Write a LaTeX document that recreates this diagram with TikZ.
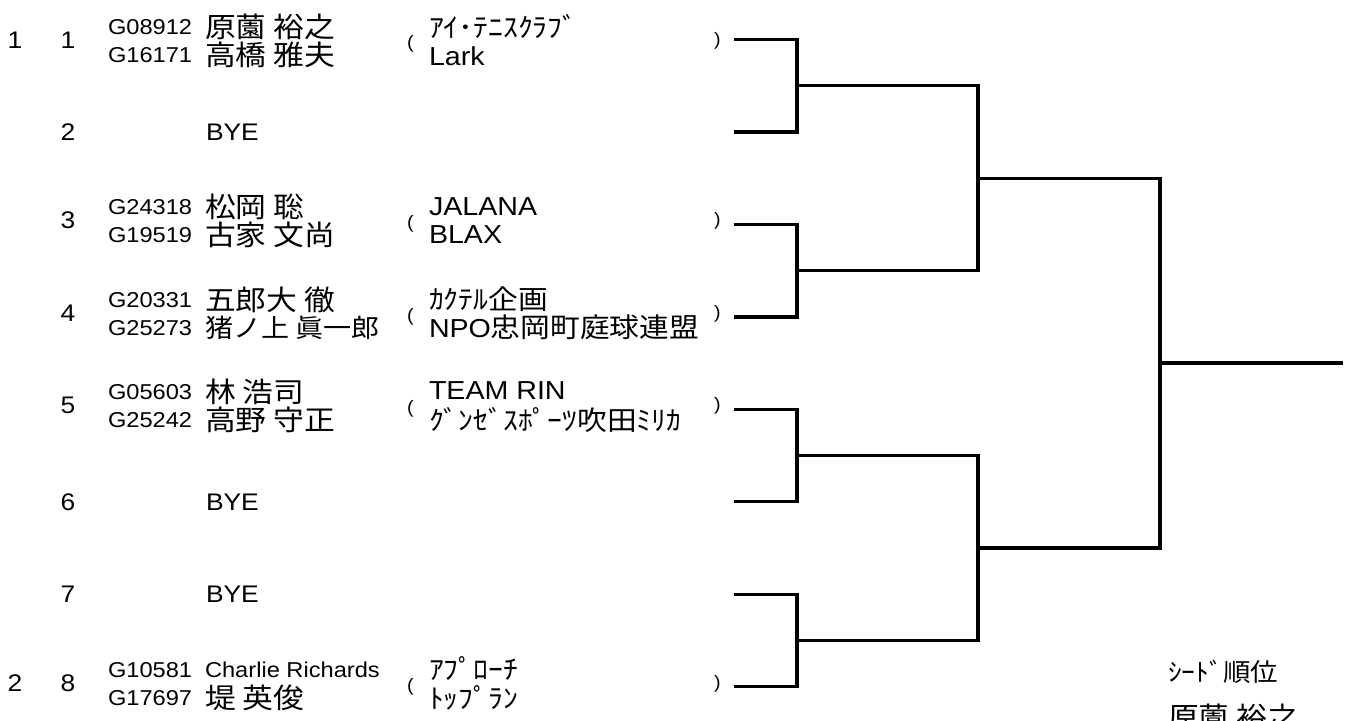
\documentclass[tikz,border=0pt]{standalone}
\usepackage{fontspec}
\setmainfont{Liberation Sans}
\newfontfamily\latf{Liberation Sans}[FakeStretch=1.1]
\newfontfamily\jpf{Noto Sans CJK JP}[FakeStretch=1.1]
\newcommand\fID{\latf\fontsize{21.5}{25}\selectfont}
\newcommand\fNum{\latf\fontsize{24}{28}\selectfont}
\newcommand\fName{\jpf\fontsize{28}{32}\selectfont}
\newcommand\fNameS{\jpf\fontsize{25.5}{30}\selectfont}
\newcommand\fClub{\latf\fontsize{26}{30}\selectfont}
\newcommand\fClubJ{\jpf\fontsize{27}{31}\selectfont}
\newcommand\fParen{\latf\fontsize{18}{21}\selectfont}
\newcommand\fSeedLbl{\jpf\fontsize{25}{29}\selectfont}
\tikzset{
  every node/.style={inner sep=0pt, outer sep=0pt},
  numtxt/.style={font=\fNum, anchor=center, text height=17.2pt, text depth=0pt},
  byetxt/.style={font=\fNum, anchor=west, text height=17.2pt, text depth=0pt},
  idtxt/.style={font=\fID, anchor=west, text height=15.4pt, text depth=0pt},
  nametxt/.style={font=\fName, anchor=west, text height=21.3pt, text depth=0pt},
  namesm/.style={font=\fNameS, anchor=west, text height=19.4pt, text depth=0pt},
  clubl/.style={font=\fClub, anchor=west, text height=18.6pt, text depth=0pt},
  clubj/.style={font=\fClubJ, anchor=west, text height=20.5pt, text depth=0pt},
  paren/.style={font=\fParen, anchor=west, text height=9.4pt, text depth=0pt},
  seedlbl/.style={font=\fSeedLbl, anchor=west, text height=19pt, text depth=0pt},
  bracket/.style={draw=black, line width=3.3pt, line join=miter}
}
\begin{document}
\begin{tikzpicture}[x=1pt, y=-1pt]
\useasboundingbox (0,0) rectangle (1354,720);
\clip (0,0) rectangle (1354,720);

% ---- slot 1 ----
\node[numtxt] (sd1) at (15,40) {1};
\node[numtxt] (n1) at (68,40) {1};
\node[idtxt] (id1a) at (108,27) {G08912};
\node[nametxt] (nm1a) at (205,27) {原薗 裕之};
\node[idtxt] (id1b) at (108,55) {G16171};
\node[nametxt] (nm1b) at (205,55) {高橋 雅夫};
\node[paren] (lp1) at (407,44) {(};
\node[clubj] (cl1a) at (429,27) {ｱｲ･ﾃﾆｽｸﾗﾌﾞ};
\node[clubl] (cl1b) at (429,56) {Lark};
\node[paren] (rp1) at (714,41) {)};

% ---- slot 2 ----
\node[numtxt] (n2) at (68,132) {2};
\node[byetxt] (b2) at (206,132) {BYE};

% ---- slot 3 ----
\node[numtxt] (n3) at (68,220) {3};
\node[idtxt] (id3a) at (108,207) {G24318};
\node[nametxt] (nm3a) at (205,207) {松岡 聡};
\node[idtxt] (id3b) at (108,235) {G19519};
\node[nametxt] (nm3b) at (205,235) {古家 文尚};
\node[paren] (lp3) at (407,224) {(};
\node[clubl] (cl3a) at (429,206) {JALANA};
\node[clubl] (cl3b) at (429,234) {BLAX};
\node[paren] (rp3) at (714,221) {)};

% ---- slot 4 ----
\node[numtxt] (n4) at (68,313) {4};
\node[idtxt] (id4a) at (108,300) {G20331};
\node[nametxt] (nm4a) at (205,300) {五郎大 徹};
\node[idtxt] (id4b) at (108,328) {G25273};
\node[namesm] (nm4b) at (205,328) {猪ノ上 眞一郎};
\node[paren] (lp4) at (407,317) {(};
\node[clubj] (cl4a) at (429,299) {ｶｸﾃﾙ企画};
\node[clubj] (cl4b) at (429,327) {{\fClub NPO}忠岡町庭球連盟};
\node[paren] (rp4) at (714,314) {)};

% ---- slot 5 ----
\node[numtxt] (n5) at (68,405) {5};
\node[idtxt] (id5a) at (108,392) {G05603};
\node[nametxt] (nm5a) at (205,392) {林 浩司};
\node[idtxt] (id5b) at (108,420) {G25242};
\node[nametxt] (nm5b) at (205,420) {高野 守正};
\node[paren] (lp5) at (407,409) {(};
\node[clubl] (cl5a) at (429,390) {TEAM RIN};
\node[clubj] (cl5b) at (429,420) {ｸﾞﾝｾﾞｽﾎﾟｰﾂ吹田ﾐﾘｶ};
\node[paren] (rp5) at (714,406) {)};

% ---- slot 6, 7 ----
\node[numtxt] (n6) at (68,502) {6};
\node[byetxt] (b6) at (206,502) {BYE};
\node[numtxt] (n7) at (68,594) {7};
\node[byetxt] (b7) at (206,594) {BYE};

% ---- slot 8 ----
\node[numtxt] (sd2) at (15,683) {2};
\node[numtxt] (n8) at (68,683) {8};
\node[idtxt] (id8a) at (108,670) {G10581};
\node[idtxt] (nm8a) at (205,670) {Charlie Richards};
\node[idtxt] (id8b) at (108,698) {G17697};
\node[nametxt] (nm8b) at (205,698) {堤 英俊};
\node[paren] (lp8) at (407,687) {(};
\node[clubj] (cl8a) at (429,669) {ｱﾌﾟﾛｰﾁ};
\node[clubj] (cl8b) at (429,698) {ﾄｯﾌﾟﾗﾝ};
\node[paren] (rp8) at (714,684) {)};

% ---- seed order ----
\node[seedlbl] (seedt) at (1168,672) {ｼｰﾄﾞ順位};
\node[nametxt] (seedn) at (1168,717) {原薗 裕之};

% ---- bracket coordinates ----
\coordinate (e1) at (734,39.5);
\coordinate (e2) at (734,131.95);
\coordinate (e3) at (734,224.4);
\coordinate (e4) at (734,316.85);
\coordinate (e5) at (734,409.3);
\coordinate (e6) at (734,501.75);
\coordinate (e7) at (734,594.2);
\coordinate (e8) at (734,686.65);
\coordinate (j1) at (797,85.7);
\coordinate (j2) at (797,270.6);
\coordinate (j3) at (797,455.5);
\coordinate (j4) at (797,640.4);
\coordinate (q1) at (978,178.2);
\coordinate (q2) at (978,548);
\coordinate (r) at (1160,363.1);
\coordinate (w) at (1343,363.1);

\draw[bracket] (e1) -| (j1) |- (e2);
\draw[bracket] (e3) -| (j2) |- (e4);
\draw[bracket] (e5) -| (j3) |- (e6);
\draw[bracket] (e7) -| (j4) |- (e8);
\draw[bracket] (j1) -| (q1) |- (j2);
\draw[bracket] (j3) -| (q2) |- (j4);
\draw[bracket] (q1) -| (r) |- (q2);
\draw[bracket] (r) -- (w);
\end{tikzpicture}
\end{document}
